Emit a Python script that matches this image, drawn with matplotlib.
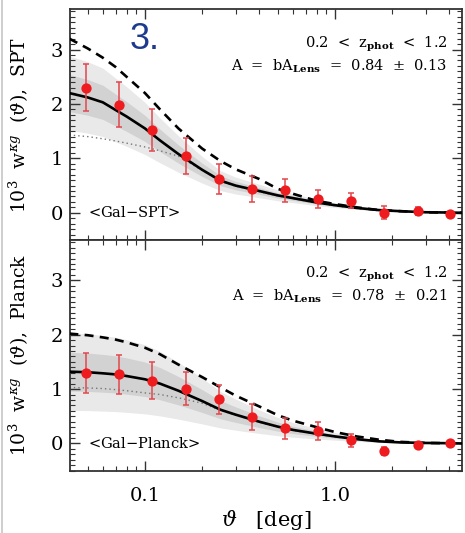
import matplotlib
matplotlib.use("Agg")
import matplotlib.pyplot as plt
import matplotlib.transforms as mtransforms
from matplotlib.patches import Rectangle
import numpy as np

matplotlib.rcParams.update({
    "font.family": "DejaVu Serif",
    "mathtext.fontset": "dejavuserif",
    "font.size": 13,
})

# ── measured cross-correlation points ────────────────────────────────────────
theta_pts = [0.049, 0.073, 0.109, 0.164, 0.245, 0.365, 0.545, 0.815,
             1.22, 1.82, 2.72, 4.05]

spt_w   = [2.30, 1.99, 1.52, 1.05, 0.62, 0.44, 0.41, 0.25, 0.22, 0.00, 0.03, -0.03]
spt_err = [0.43, 0.42, 0.39, 0.33, 0.27, 0.24, 0.21, 0.16, 0.14, 0.12, 0.07, 0.05]

planck_w   = [1.30, 1.27, 1.15, 1.01, 0.81, 0.49, 0.28, 0.23, 0.06, -0.14, -0.03, 0.01]
planck_err = [0.37, 0.36, 0.34, 0.31, 0.27, 0.24, 0.19, 0.16, 0.12, 0.08, 0.05, 0.04]

# ── model curves ─────────────────────────────────────────────────────────────
theta_mod = [0.04, 0.05, 0.06, 0.07, 0.08, 0.10, 0.12, 0.15, 0.20, 0.25,
             0.30, 0.40, 0.50, 0.60, 0.80, 1.0, 1.3, 1.7, 2.2, 3.0, 4.0, 4.7]

spt_fit    = [2.20, 2.12, 2.03, 1.89, 1.77, 1.55, 1.33, 1.08, 0.79, 0.59,
              0.50, 0.40, 0.32, 0.27, 0.19, 0.14, 0.09, 0.05, 0.03, 0.01, 0.005, 0.0]
spt_dash   = [3.20, 3.02, 2.85, 2.68, 2.50, 2.20, 1.90, 1.55, 1.18, 0.95,
              0.80, 0.62, 0.44, 0.35, 0.22, 0.16, 0.10, 0.05, 0.03, 0.01, 0.005, 0.0]
spt_dot    = [1.43, 1.40, 1.36, 1.32, 1.28, 1.21, 1.14, 1.04, 0.78, 0.58,
              0.49, 0.39, 0.31, 0.26, 0.18, 0.13, 0.08, 0.05, 0.03, 0.01, 0.005, 0.0]

planck_fit  = [1.32, 1.31, 1.29, 1.27, 1.24, 1.18, 1.10, 0.97, 0.78, 0.62,
               0.53, 0.40, 0.31, 0.25, 0.18, 0.13, 0.08, 0.04, 0.02, 0.01, 0.005, 0.0]
planck_dash = [2.02, 1.99, 1.95, 1.91, 1.86, 1.76, 1.64, 1.45, 1.22, 1.03,
               0.88, 0.68, 0.52, 0.42, 0.30, 0.21, 0.13, 0.07, 0.03, 0.01, 0.005, 0.0]
planck_dot  = [1.03, 1.02, 1.01, 0.99, 0.97, 0.93, 0.90, 0.84, 0.74, 0.61,
               0.52, 0.39, 0.30, 0.24, 0.17, 0.12, 0.08, 0.04, 0.02, 0.01, 0.005, 0.0]

# amplitude fits  A = b A_Lens
spt_amp, spt_sig = 0.84, 0.13
planck_amp, planck_sig = 0.78, 0.21

C_RED   = "#ee1b1f"
C_ERR   = "#e2474d"
C_LIGHT = "#e9e9e9"
C_DARK  = "#d2d2d2"
C_FRAME = "#333333"

fig = plt.figure(figsize=(4.65, 5.33), dpi=100)
fig.patch.set_facecolor("white")
fig.add_artist(Rectangle((0.003, 0), 0.004, 1, transform=fig.transFigure,
                         facecolor="#cfcfcf", edgecolor="none"))

L, W = 0.1505, 0.843
ax_top = fig.add_axes([L, 0.5497, W, 0.4329])
ax_bot = fig.add_axes([L, 0.1169, W, 0.4328])


def panel(ax, w, err, fit, dash, dot, amp, sig, tag, ylab):
    fit = np.asarray(fit)
    r1, r2 = sig / amp, 2 * sig / amp
    ax.fill_between(theta_mod, fit * (1 - r2), fit * (1 + r2),
                    color=C_LIGHT, lw=0, zorder=1)
    ax.fill_between(theta_mod, fit * (1 - r1), fit * (1 + r1),
                    color=C_DARK, lw=0, zorder=1)
    ax.plot(theta_mod, dot, color="#777777", lw=1.0, ls=(0, (1, 2.2)), zorder=2)
    ax.plot(theta_mod, dash, color="black", lw=1.9, ls=(0, (3.4, 2.4)), zorder=3)
    ax.plot(theta_mod, fit, color="black", lw=1.9, zorder=3)
    ax.errorbar(theta_pts, w, yerr=err, fmt="none", ecolor=C_ERR,
                elinewidth=1.1, capsize=2.4, capthick=1.1, zorder=4)
    ax.plot(theta_pts, w, "o", color=C_RED, ms=7.4, mec="none", zorder=5)

    ax.set_xscale("log")
    ax.set_xlim(0.0403, 4.66)
    ax.set_ylim(-0.5, 3.74)
    ax.set_yticks([0, 1, 2, 3])
    ax.set_yticks(np.arange(-0.5, 3.75, 0.1), minor=True)
    ax.set_xticks([0.1, 1.0])
    ax.set_xticklabels(["0.1", "1.0"])
    ax.tick_params(which="both", direction="in", top=True, right=True,
                   color=C_FRAME, labelsize=14)
    ax.tick_params(which="major", length=7, width=1.0)
    ax.tick_params(which="minor", length=3.5, width=0.8)
    ax.tick_params(axis="y", which="major", pad=5)
    for s in ax.spines.values():
        s.set_color(C_FRAME)
        s.set_linewidth(1.3)

    ax.set_ylabel(ylab, fontsize=13.5)
    ax.yaxis.set_label_coords(-0.1, 0.5)

    ax.text(0.962, 0.85, r"0.2  <  z$_{\mathbf{phot}}$  <  1.2",
            transform=ax.transAxes, ha="right", va="center", fontsize=10.5)
    ax.text(0.962, 0.755,
            r"A  =  bA$_{\mathbf{Lens}}$  =  %.2f  $\pm$  %.2f" % (amp, sig),
            transform=ax.transAxes, ha="right", va="center", fontsize=10.5)
    trans = mtransforms.blended_transform_factory(ax.transAxes, ax.transData)
    ax.text(0.046, 0.0, tag, transform=trans, ha="left", va="center",
            fontsize=10.5)


panel(ax_top, spt_w, spt_err, spt_fit, spt_dash, spt_dot,
      spt_amp, spt_sig, "<Gal$-$SPT>",
      r"$10^3$  w$^{\kappa g}$  ($\vartheta$),  SPT")
panel(ax_bot, planck_w, planck_err, planck_fit, planck_dash, planck_dot,
      planck_amp, planck_sig, "<Gal$-$Planck>",
      r"$10^3$  w$^{\kappa g}$  ($\vartheta$),  Planck")

ax_top.tick_params(axis="x", labelbottom=False)
ax_bot.set_xlabel(r"$\vartheta$   [deg]", fontsize=15, labelpad=2)
ax_bot.tick_params(axis="x", which="major", pad=12)

ax_top.text(0.19, 0.87, "3.", transform=ax_top.transAxes, ha="center",
            va="center", fontsize=26, color="#1d3b8e", family="Liberation Sans")

fig.savefig("out.png", dpi=100, facecolor="white")
